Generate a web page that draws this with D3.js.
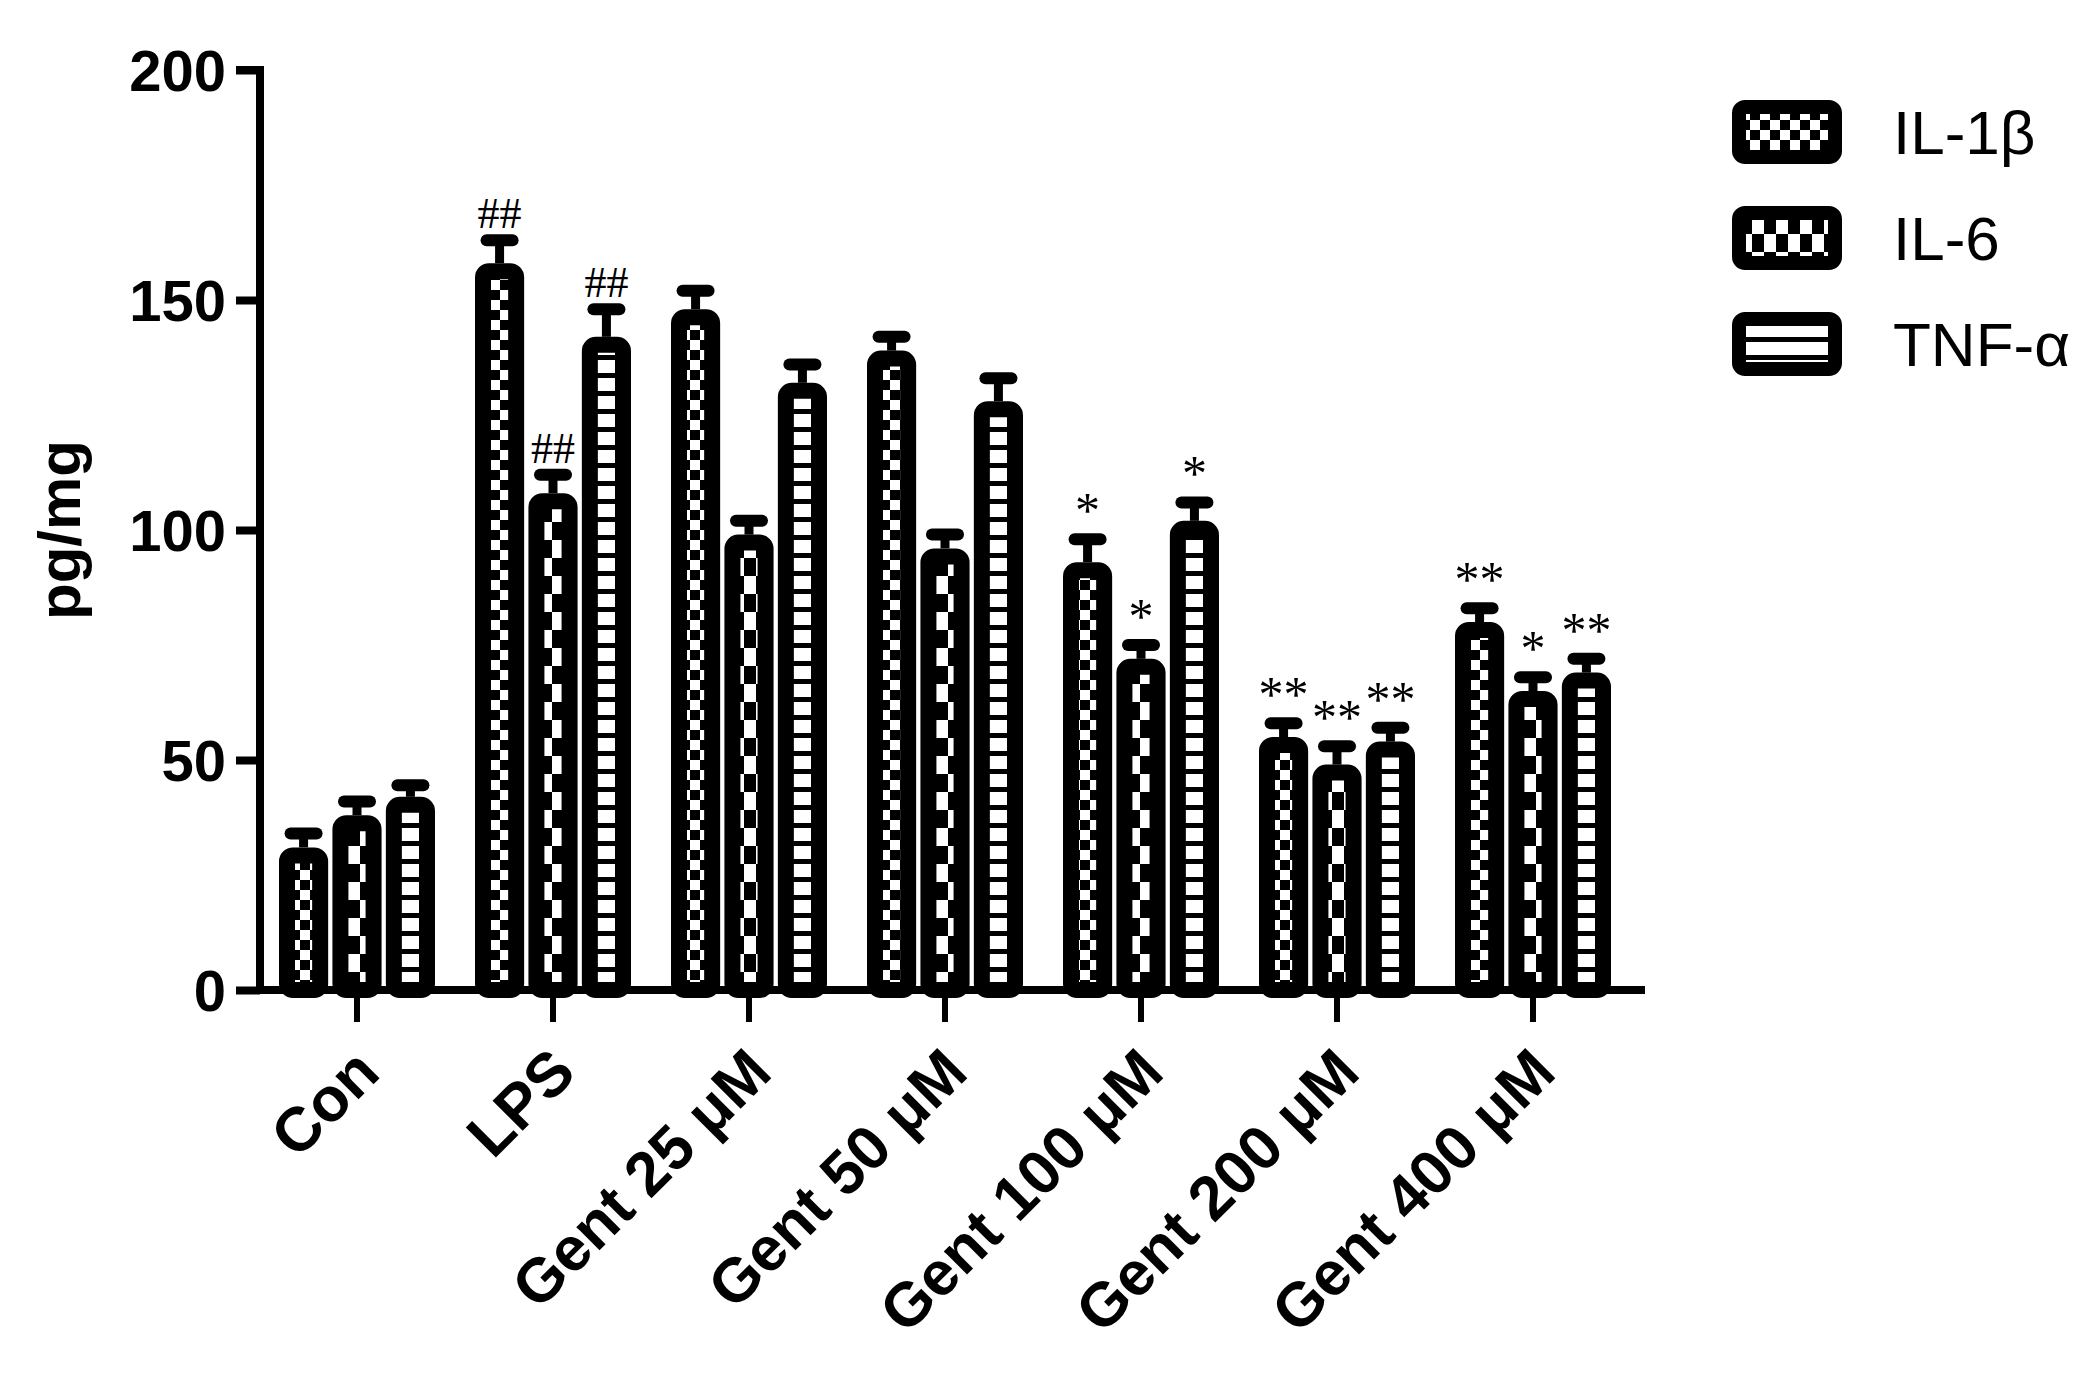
<!DOCTYPE html>
<html>
<head>
<meta charset="UTF-8">
<script src="https://d3js.org/d3.v7.min.js"></script>
<style>
  body { margin: 0; background: #fff; }
  text { font-family: "Liberation Sans", Arial, sans-serif; }
</style>
</head>
<body>
<div id="chart"></div>
<script>
const groups = ["Con", "LPS", "Gent 25 μM", "Gent 50 μM", "Gent 100 μM", "Gent 200 μM", "Gent 400 μM"];
const seriesNames = ["IL-1β", "IL-6", "TNF-α"];
const il1b = [31, 158, 148, 139, 93, 55, 80];
const il6 = [38, 108, 99, 96, 72, 49, 65];
const tnfa = [42, 142, 132, 128, 102, 54, 69];
const il1bErr = [3, 5, 4, 3, 5, 3, 3];
const il6Err = [3, 4, 3, 3, 3, 4, 3];
const tnfaErr = [2.5, 6, 4, 5, 4, 3, 3];
const il1bMark = ["", "##", "", "", "*", "**", "**"];
const il6Mark = ["", "##", "", "", "*", "**", "*"];
const tnfaMark = ["", "##", "", "", "*", "**", "**"];
const yTicks = [0, 50, 100, 150, 200];

const series = [
  { name: seriesNames[0], vals: il1b, err: il1bErr, mark: il1bMark, pat: "p1" },
  { name: seriesNames[1], vals: il6, err: il6Err, mark: il6Mark, pat: "p2" },
  { name: seriesNames[2], vals: tnfa, err: tnfaErr, mark: tnfaMark, pat: "p3" }
];

const W = 2094, H = 1389;
const svg = d3.select("#chart").append("svg").attr("width", W).attr("height", H);
const defs = svg.append("defs");

// IL-1β: small checkerboard
let p = defs.append("pattern").attr("id", "p1").attr("patternUnits", "userSpaceOnUse").attr("width", 20).attr("height", 20);
p.append("rect").attr("width", 20).attr("height", 20).attr("fill", "#fff");
p.append("rect").attr("width", 10).attr("height", 10).attr("fill", "#000");
p.append("rect").attr("x", 10).attr("y", 10).attr("width", 10).attr("height", 10).attr("fill", "#000");
// IL-6: large alternating squares
p = defs.append("pattern").attr("id", "p2").attr("patternUnits", "userSpaceOnUse").attr("width", 24).attr("height", 36);
p.append("rect").attr("width", 24).attr("height", 36).attr("fill", "#000");
p.append("rect").attr("x", 0).attr("y", 0).attr("width", 12).attr("height", 18).attr("fill", "#fff");
p.append("rect").attr("x", 12).attr("y", 18).attr("width", 12).attr("height", 18).attr("fill", "#fff");
// TNF-α: horizontal stripes
p = defs.append("pattern").attr("id", "p3").attr("patternUnits", "userSpaceOnUse").attr("width", 10).attr("height", 18);
p.append("rect").attr("width", 10).attr("height", 18).attr("fill", "#fff");
p.append("rect").attr("y", 13).attr("width", 10).attr("height", 5).attr("fill", "#000");

const x0 = d3.scalePoint().domain(groups).range([357, 1533]);
const x1 = d3.scaleBand().domain(seriesNames).range([-78, 78]).paddingInner(0.08);
const y = d3.scaleLinear().domain([0, 200]).range([990, 70]);

// bars
series.forEach(s => {
  const g = svg.append("g");
  groups.forEach((grp, i) => {
    const bx = x0(grp) + x1(s.name);
    const bw = x1.bandwidth();
    const top = y(s.vals[i]);
    const etop = y(s.vals[i] + s.err[i]);
    const cx = bx + bw / 2;
    // error bar
    g.append("line").attr("x1", cx).attr("x2", cx).attr("y1", top).attr("y2", etop)
      .attr("stroke", "#000").attr("stroke-width", 9);
    g.append("line").attr("x1", cx - 13).attr("x2", cx + 13).attr("y1", etop).attr("y2", etop)
      .attr("stroke", "#000").attr("stroke-width", 12).attr("stroke-linecap", "round");
    g.append("rect").attr("x", bx + 8).attr("y", top + 8).attr("width", bw - 16).attr("height", y(0) - top - 8)
      .attr("rx", 6).attr("fill", `url(#${s.pat})`).attr("stroke", "#000").attr("stroke-width", 16);
    if (s.mark[i]) {
      g.append("text").attr("x", cx).attr("y", etop - 12).attr("text-anchor", "middle")
        .style("font-family", "'Liberation Serif', 'Times New Roman', serif")
        .style("font-size", s.mark[i] === "##" ? "44px" : "50px").text(s.mark[i]);
    }
  });
});

// y axis
const yAxis = svg.append("g").attr("transform", "translate(260,0)")
  .call(d3.axisLeft(y).tickValues(yTicks).tickSize(24).tickPadding(10));
yAxis.select(".domain").attr("stroke-width", 8).attr("d", "M-24,70H0V990");
yAxis.selectAll(".tick line").attr("stroke-width", 8);
yAxis.selectAll(".tick text").style("font-size", "58px").style("font-weight", "bold").attr("dy", "0.35em");

// x axis
const xAxis = svg.append("g").attr("transform", "translate(0,990)");
xAxis.append("line").attr("x1", 256).attr("x2", 1645).attr("stroke", "#000").attr("stroke-width", 8);
groups.forEach(grp => {
  xAxis.append("line").attr("x1", x0(grp)).attr("x2", x0(grp)).attr("y1", 0).attr("y2", 32)
    .attr("stroke", "#000").attr("stroke-width", 6);
  xAxis.append("text").attr("transform", `translate(${x0(grp) + 10},${70}) rotate(-45)`)
    .attr("text-anchor", "end").attr("dy", "0.35em")
    .style("font-size", "62px").style("font-weight", "bold").text(grp);
});

// y label
svg.append("text").attr("transform", "translate(80,530) rotate(-90)").attr("text-anchor", "middle")
  .style("font-size", "60px").style("font-weight", "bold").text("pg/mg");

// legend
const leg = svg.append("g");
series.forEach((s, i) => {
  const ly = 132 + i * 106;
  leg.append("rect").attr("x", 1739).attr("y", ly - 25).attr("width", 96).attr("height", 50).attr("rx", 6)
    .attr("fill", `url(#${s.pat})`).attr("stroke", "#000").attr("stroke-width", 14);
  leg.append("text").attr("x", 1893).attr("y", ly).attr("dy", "0.36em")
    .style("font-size", "62px").text(s.name);
});
</script>
</body>
</html>
